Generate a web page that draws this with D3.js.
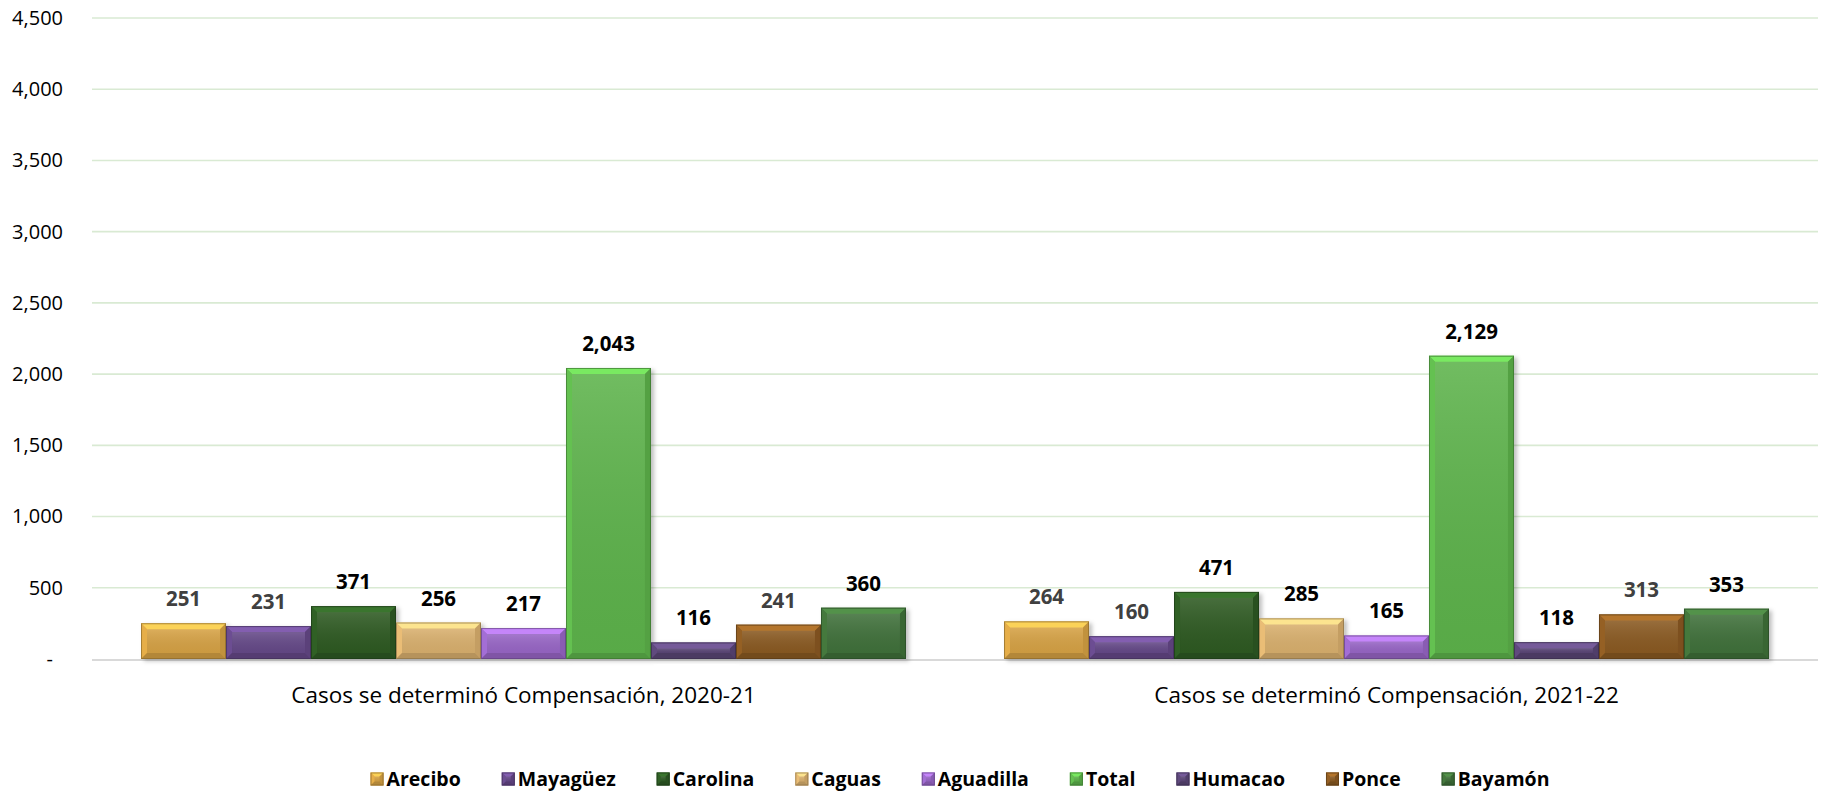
<!DOCTYPE html>
<html>
<head>
<meta charset="utf-8">
<script src="https://cdn.jsdelivr.net/npm/d3@7/dist/d3.min.js"></script>
<style>
html,body{margin:0;padding:0;background:#fff;}
svg{display:block;}
text{font-family:"Open Sans","Noto Sans",sans-serif;}
</style>
</head>
<body>
<svg id="chart" width="1826" height="794"></svg>
<script>
// ---- data ----
const categories = ["Casos se determinó Compensación, 2020-21", "Casos se determinó Compensación, 2021-22"];
const seriesNames = ["Arecibo","Mayagüez","Carolina","Caguas","Aguadilla","Total","Humacao","Ponce","Bayamón"];
const values2021 = [251, 231, 371, 256, 217, 2043, 116, 241, 360];
const values2122 = [264, 160, 471, 285, 165, 2129, 118, 313, 353];
const seriesColors = ["#D6A244","#654888","#2D5A24","#D9B06E","#9866C6","#5DB34B","#5A4576","#8A5A22","#40713A"];
const labelColors = ["#404040","#404040","#000","#000","#000","#000","#000","#404040","#000"];
const yTicks = [0,500,1000,1500,2000,2500,3000,3500,4000,4500];

const seriesValues = [values2021, values2122];

const svg = d3.select("#chart");
const plotLeft = 92, plotRight = 1818, plotTop = 18, plotBottom = 659;

const y = d3.scaleLinear().domain([0,4500]).range([plotBottom, plotTop]);
const x0 = d3.scaleBand().domain(categories).range([plotLeft,plotRight]).paddingInner(0.1136).paddingOuter(0.0568);
const x1 = d3.scaleBand().domain(seriesNames).range([0, x0.bandwidth()]).padding(0);

// defs
const defs = svg.append("defs");
const f = defs.append("filter").attr("id","sh").attr("x","-20%").attr("y","-20%").attr("width","150%").attr("height","150%");
f.append("feDropShadow").attr("dx",3).attr("dy",2).attr("stdDeviation",2).attr("flood-color","#000").attr("flood-opacity",0.25);
const lg = defs.append("linearGradient").attr("id","face").attr("x1",0).attr("x2",0).attr("y1",0).attr("y2",1);
lg.append("stop").attr("offset","0%").attr("stop-color","#fff").attr("stop-opacity",0.12);
lg.append("stop").attr("offset","100%").attr("stop-color","#000").attr("stop-opacity",0.05);

// y axis
const yAxis = d3.axisLeft(y).tickValues(yTicks).tickSize(0).tickFormat(d => d === 0 ? "-" : d3.format(",")(d));
const gAxis = svg.append("g").attr("transform",`translate(63,0)`).call(yAxis);
gAxis.select(".domain").remove();
gAxis.selectAll("text").attr("x",0).attr("dx",null)
  .style("font-size","20px").style("font-family","'Open Sans','Noto Sans',sans-serif").attr("fill","#000").attr("text-anchor","end")
  .attr("transform", d => d === 0 ? "translate(-10,0)" : null);

// gridlines
svg.append("g").selectAll("line").data(yTicks.filter(d=>d>0)).join("line")
  .attr("x1",plotLeft).attr("x2",plotRight).attr("y1",d=>y(d)).attr("y2",d=>y(d))
  .attr("stroke","#D9EAD3").attr("stroke-width",1.6);

// baseline
svg.append("line").attr("x1",plotLeft).attr("x2",plotRight).attr("y1",y(0)+1).attr("y2",y(0)+1)
  .attr("stroke","#D9D9D9").attr("stroke-width",2.2);

// bars with bevel
function bevelBar(g, x, yt, w, h, color, b, shadow) {
  b = Math.min(b, h/2, w/2);
  const c = d3.color(color);
  const base = g.append("rect").attr("x",x).attr("y",yt).attr("width",w).attr("height",h).attr("fill",color);
  if (shadow) base.attr("filter","url(#sh)");
  g.append("polygon").attr("points",[[x,yt],[x+w,yt],[x+w-b,yt+b],[x+b,yt+b]].join(" "))
    .attr("fill",c.brighter(0.8).formatHex()).attr("opacity",0.9);
  g.append("polygon").attr("points",[[x,yt],[x+b,yt+b],[x+b,yt+h-b],[x,yt+h]].join(" "))
    .attr("fill",c.brighter(0.25).formatHex()).attr("opacity",0.8);
  g.append("polygon").attr("points",[[x+w,yt],[x+w,yt+h],[x+w-b,yt+h-b],[x+w-b,yt+b]].join(" "))
    .attr("fill",c.darker(0.35).formatHex()).attr("opacity",0.85);
  g.append("polygon").attr("points",[[x,yt+h],[x+b,yt+h-b],[x+w-b,yt+h-b],[x+w,yt+h]].join(" "))
    .attr("fill",c.darker(0.6).formatHex()).attr("opacity",0.85);
  g.append("rect").attr("x",x+b).attr("y",yt+b).attr("width",Math.max(0,w-2*b)).attr("height",Math.max(0,h-2*b))
    .attr("fill","url(#face)");
  g.append("rect").attr("x",x+0.5).attr("y",yt+0.5).attr("width",w-1).attr("height",h-1)
    .attr("fill","none").attr("stroke",c.darker(1.2).formatHex()).attr("stroke-width",1).attr("opacity",0.7);
}

const barsG = svg.append("g");
const labelsG = svg.append("g");
categories.forEach((cat, ci) => {
  seriesNames.forEach((s, si) => {
    const v = seriesValues[ci][si];
    const bx = x0(cat) + x1(s);
    const w = x1.bandwidth();
    const g = barsG.append("g");
    bevelBar(g, bx, y(v), w, y(0) - y(v), seriesColors[si], 6, true);
    labelsG.append("text").attr("x", bx + w/2).attr("y", y(v) - 17)
      .attr("text-anchor","middle").style("font-size","20.5px").style("font-weight","700")
      .attr("fill", labelColors[si]).text(d3.format(",")(v));
  });
  svg.append("text").attr("x", x0(cat) + x0.bandwidth()/2).attr("y", 703)
    .attr("text-anchor","middle").style("font-size","22.5px").attr("fill","#000").text(cat);
});

// legend
const legend = svg.append("g");
const items = [];
let cx = 0;
const markerGap = 16, itemGap = 41;
seriesNames.forEach((s, si) => {
  const g = legend.append("g");
  bevelBar(g, 0, -6.5, 13, 13, seriesColors[si], 4, false);
  const t = g.append("text").attr("x", markerGap).attr("y", 7).style("font-size","19.5px").style("font-weight","700")
    .attr("fill","#000").text(s);
  const tw = t.node().getComputedTextLength();
  items.push({g, x: cx});
  cx += markerGap + tw + itemGap;
});
const totalW = cx - itemGap;
const startX = 960 - totalW/2;
items.forEach(it => it.g.attr("transform", `translate(${startX + it.x},779)`));
</script>
</body>
</html>
